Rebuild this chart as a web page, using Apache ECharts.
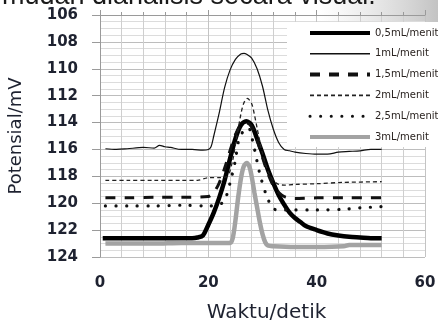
<!DOCTYPE html>
<html>
<head>
<meta charset="utf-8">
<script src="https://cdn.jsdelivr.net/npm/echarts@6/dist/echarts.min.js"></script>
<style>
html,body{margin:0;padding:0;background:#fff;}
#c{width:438px;height:320px;}
</style>
</head>
<body>
<div id="c"></div>
<script>
// ---- data ----
const seriesNames = ["0,5mL/menit", "1mL/menit", "1,5mL/menit", "2mL/menit", "2,5mL/menit", "3mL/menit"];
const xTicks = [0, 20, 40, 60];
const yTicks = [106, 108, 110, 112, 114, 116, 118, 120, 122, 124];

const t05 = [0.5, 5, 10, 15, 17, 18, 19, 20, 21, 22, 23, 24, 25, 26, 27, 28, 29, 30, 31, 32, 33, 34, 35, 36, 37, 38, 40, 42, 44, 46, 48, 50, 52];
const v05 = [122.6, 122.6, 122.6, 122.6, 122.6, 122.55, 122.4, 121.6, 120.7, 119.6, 118.3, 116.7, 115.2, 114.2, 113.9, 114.2, 115.2, 116.3, 117.5, 118.5, 119.4, 120.1, 120.7, 121.1, 121.4, 121.7, 122.0, 122.25, 122.4, 122.5, 122.55, 122.6, 122.6];

const t1 = [1, 3, 5, 8, 10, 11, 12, 13, 15, 17, 19, 20, 20.5, 21, 22, 23, 24, 25, 26, 26.6, 27, 28, 29, 30, 31, 32, 33, 34, 35, 36, 38, 40, 42, 44, 46, 48, 50, 52];
const v1 = [115.95, 116.0, 115.95, 115.85, 115.9, 115.7, 115.8, 115.85, 116.0, 116.0, 116.05, 116.0, 115.8, 115.0, 113.3, 111.4, 110.1, 109.3, 108.9, 108.85, 108.9, 109.2, 110.0, 111.3, 113.1, 114.5, 115.5, 116.0, 116.1, 116.2, 116.3, 116.35, 116.35, 116.2, 116.15, 116.1, 116.0, 116.0];

const t15 = [1, 5, 10, 15, 20, 21, 22, 23, 24, 25, 26, 27, 28, 29, 30, 31, 32, 33, 34, 35, 36, 40, 45, 52];
const v15 = [119.6, 119.6, 119.55, 119.55, 119.5, 119.2, 118.5, 117.4, 116.1, 114.9, 114.2, 114.0, 114.3, 115.3, 116.6, 117.8, 118.7, 119.2, 119.5, 119.6, 119.65, 119.6, 119.6, 119.6];

const t2 = [1, 5, 10, 15, 18, 20, 22, 23.5, 24.5, 25, 25.5, 26, 26.5, 27.2, 28, 28.5, 29, 29.5, 30, 31, 32, 33, 34, 36, 40, 45, 52];
const v2 = [118.3, 118.3, 118.3, 118.3, 118.3, 118.1, 118.1, 118.0, 116.8, 115.6, 114.5, 113.4, 112.6, 112.2, 112.6, 113.4, 114.4, 115.4, 116.3, 117.6, 118.3, 118.6, 118.65, 118.6, 118.55, 118.45, 118.4];

const t25 = [1, 5, 10, 15, 20, 22, 23, 24, 25, 25.5, 26.5, 27.4, 28.3, 29.5, 30.8, 32, 33, 35, 40, 45, 48, 52];
const v25 = [120.2, 120.2, 120.2, 120.15, 120.2, 120.1, 119.8, 118.5, 116.8, 115.5, 114.6, 114.4, 115.6, 117.8, 119.5, 120.4, 120.5, 120.5, 120.5, 120.45, 120.35, 120.25];

const t3 = [1, 5, 10, 15, 20, 24, 24.5, 25, 25.5, 26, 26.5, 27.1, 27.6, 28, 28.5, 29, 29.5, 30, 30.5, 31, 32, 36, 40, 45, 46, 52];
const v3 = [123.0, 123.0, 123.0, 122.95, 122.95, 122.95, 122.6, 121.3, 119.6, 118.2, 117.3, 117.0, 117.3, 118.0, 119.2, 120.3, 121.4, 122.3, 122.9, 123.15, 123.2, 123.25, 123.25, 123.2, 123.1, 123.1];

const xs = [t05, t1, t15, t2, t25, t3];
const ys = [v05, v1, v15, v2, v25, v3];

// ---- styles ----
const lineStyles = [
  {color: '#000', width: 4.5, type: 'solid', legendWidth: 4},
  {color: '#111', width: 1.2, type: 'solid', legendWidth: 1.5},
  {color: '#111', width: 3, type: [10, 9], legendWidth: 4},
  {color: '#222', width: 1.3, type: [4, 3], legendWidth: 1.6},
  {color: '#111', width: 3.2, type: [0.1, 10.5], cap: 'round', legendWidth: 3},
  {color: '#a3a3a3', width: 4.5, type: 'solid', legendWidth: 4}
];
const textColor = '#1e2230';

const chart = echarts.init(document.getElementById('c'), null, {renderer: 'canvas'});

const series = seriesNames.map((name, i) => ({
  name: name,
  type: 'line',
  xAxisIndex: 0,
  yAxisIndex: 0,
  data: xs[i].map((t, k) => [t, ys[i][k]]),
  showSymbol: false,
  symbol: 'none',
  smooth: 0.3,
  lineStyle: {color: lineStyles[i].color, width: lineStyles[i].width, type: lineStyles[i].type, cap: lineStyles[i].cap || 'butt'},
  itemStyle: {color: lineStyles[i].color},
  z: 3 + i,
  animation: false
}));

chart.setOption({
  backgroundColor: '#fff',
  animation: false,
  grid: {left: 100, right: 13, top: 15, bottom: 63, containLabel: false, outerBoundsMode: 'none'},
  xAxis: [{
    type: 'value', position: 'bottom', min: xTicks[0], max: xTicks[xTicks.length - 1], interval: 20,
    axisLine: {show: false},
    axisTick: {show: false},
    axisLabel: {margin: 19, fontFamily: 'DejaVu Sans', fontWeight: 'bold', fontSize: 15, color: textColor},
    splitLine: {show: true, lineStyle: {color: '#c4c4c4', width: 1}},
    minorTick: {show: false, splitNumber: 5},
    minorSplitLine: {show: true, lineStyle: {color: '#cfcfcf', width: 1}},
    name: 'Waktu/detik', nameLocation: 'middle', nameGap: 46,
    nameTextStyle: {fontFamily: 'DejaVu Sans', fontSize: 20, color: textColor, padding: [0, 0, 0, 8]}
  }, {
    type: 'value', position: 'top', min: xTicks[0], max: xTicks[xTicks.length - 1], interval: 20,
    axisLine: {show: true, lineStyle: {color: '#9a9a9a', width: 1}},
    axisTick: {show: true, length: 5, lineStyle: {color: '#9a9a9a'}},
    minorTick: {show: true, splitNumber: 5, length: 3, lineStyle: {color: '#9a9a9a'}},
    axisLabel: {show: false},
    splitLine: {show: false}
  }],
  yAxis: {
    type: 'value', inverse: true, min: yTicks[0], max: yTicks[yTicks.length - 1], interval: 2,
    axisLine: {show: true, lineStyle: {color: '#9a9a9a', width: 1}},
    axisTick: {show: true, length: 8, lineStyle: {color: '#9a9a9a'}},
    axisLabel: {margin: 22, fontFamily: 'DejaVu Sans', fontWeight: 'bold', fontSize: 15, color: textColor, padding: [5, 0, 0, 0]},
    splitLine: {show: true, lineStyle: {color: '#bdbdbd', width: 1}},
    minorTick: {show: false, splitNumber: 4},
    minorSplitLine: {show: true, lineStyle: {color: '#dcdcdc', width: 1}},
    name: 'Potensial/mV', nameLocation: 'middle', nameGap: 75,
    nameTextStyle: {fontFamily: 'DejaVu Sans', fontSize: 18, color: textColor}
  },
  legend: {
    orient: 'vertical', left: 287, top: 22,
    padding: [6, 3, 5, 21],
    backgroundColor: '#fff',
    itemWidth: 60, itemHeight: 10, itemGap: 10.8,
    itemStyle: {opacity: 0},
    data: seriesNames.map((n, i) => ({name: n, lineStyle: {width: lineStyles[i].legendWidth}})),
    textStyle: {fontFamily: 'DejaVu Sans', fontSize: 10, color: '#2a2320'},
    z: 20
  },
  graphic: [
    {
      type: 'rect', left: 320, top: 0, z: 0, silent: true,
      shape: {width: 118, height: 22},
      style: {fill: new echarts.graphic.LinearGradient(0, 0, 1, 0, [
        {offset: 0, color: 'rgba(200,200,200,0)'},
        {offset: 1, color: 'rgba(175,175,175,0.75)'}
      ])}
    },
    {
      type: 'text', x: 2, y: 10, z: 10, silent: true,
      style: {text: 'mudah dianalisis secara visual.', font: '27px "Liberation Sans", Arial, sans-serif', fill: '#1a1a1a', verticalAlign: 'bottom', align: 'left'}
    }
  ],
  series: series
});
</script>
</body>
</html>
